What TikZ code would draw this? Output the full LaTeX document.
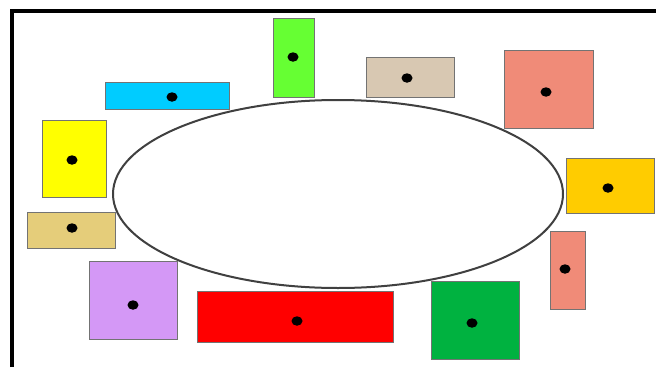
\documentclass[tikz,border=0pt]{standalone}
\usetikzlibrary{shapes.geometric}
\definecolor{cLime}{RGB}{102,255,51}
\definecolor{cCyan}{RGB}{0,204,255}
\definecolor{cYellow}{RGB}{255,255,0}
\definecolor{cKhaki}{RGB}{229,205,122}
\definecolor{cLilac}{RGB}{212,152,246}
\definecolor{cRed}{RGB}{255,0,0}
\definecolor{cDGreen}{RGB}{0,178,64}
\definecolor{cSalmon}{RGB}{240,139,120}
\definecolor{cGold}{RGB}{255,204,0}
\definecolor{cTan}{RGB}{216,200,178}
\tikzset{
  box/.style={rectangle, draw=black!55, line width=1pt, inner sep=0pt, outer sep=0pt},
  seat/.style={ellipse, fill=black, inner sep=0pt, minimum width=11pt, minimum height=9.5pt}
}
\begin{document}
\begin{tikzpicture}[x=1pt,y=-1pt]
\useasboundingbox (0,0) rectangle (656,367);
\fill[white] (0,0) rectangle (656,367);
% frame
\draw[line width=4pt] (11.5,367) -- (11.5,10.5) -- (656,10.5);
% table
\node[ellipse, draw=black!75, line width=2pt, fill=white, minimum width=450pt, minimum height=188pt, inner sep=0pt] (table) at (338,194) {};
% boxes
\node[box, fill=cLime,   minimum width=41pt, minimum height=79pt] (lime)    at (293.5,57.5) {};
\node[box, fill=cCyan,   minimum width=124pt, minimum height=27pt] (cyan)   at (167,95.5) {};
\node[box, fill=cYellow, minimum width=64pt, minimum height=77pt] (yellow)  at (74,158.5) {};
\node[box, fill=cKhaki,  minimum width=88pt, minimum height=36pt] (khaki)   at (71,230) {};
\node[box, fill=cLilac,  minimum width=88pt, minimum height=78pt] (lilac)   at (133,300) {};
\node[box, fill=cRed,    minimum width=196pt, minimum height=51pt] (red)    at (295,316.5) {};
\node[box, fill=cDGreen, minimum width=88pt, minimum height=78pt] (dgreen)  at (475,320) {};
\node[box, fill=cSalmon, minimum width=35pt, minimum height=78pt] (salmonS) at (567.5,270) {};
\node[box, fill=cGold,   minimum width=88pt, minimum height=55pt] (gold)    at (610,185.5) {};
\node[box, fill=cSalmon, minimum width=89pt, minimum height=78pt] (salmonL) at (548.5,89) {};
\node[box, fill=cTan,    minimum width=88pt, minimum height=40pt] (tan)     at (410,77) {};
% dots
\node[seat] (dLime)    at (293,57) {};
\node[seat] (dCyan)    at (172,97) {};
\node[seat] (dYellow)  at (72,160) {};
\node[seat] (dKhaki)   at (72,228) {};
\node[seat] (dLilac)   at (133,305) {};
\node[seat] (dRed)     at (297,321) {};
\node[seat] (dDGreen)  at (472,323) {};
\node[seat] (dSalmonS) at (565,269) {};
\node[seat] (dGold)    at (608,188) {};
\node[seat] (dSalmonL) at (546,92) {};
\node[seat] (dTan)     at (407,78) {};
\end{tikzpicture}
\end{document}
